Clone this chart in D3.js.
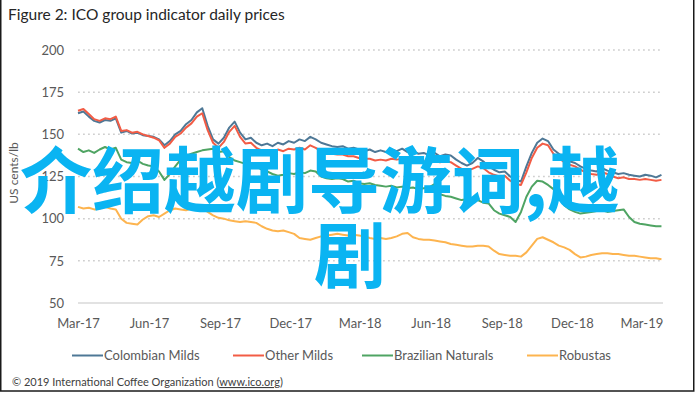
<!DOCTYPE html>
<html><head><meta charset="utf-8">
<script src="https://cdn.jsdelivr.net/npm/d3@7"></script>
<style>
html,body{margin:0;padding:0;background:#fff;}
svg{display:block;}
</style></head>
<body>
<svg id="chart" width="695" height="394"></svg>
<script>
// ---- data (weekly readings from the reference, US cents/lb) ----
const startDate = "2017-03-01";
const seriesNames = ["Colombian Milds", "Other Milds", "Brazilian Naturals", "Robustas"];
const seriesColors = ["#4e7896", "#f25c45", "#4fa463", "#fdb44f"];
const colombianMilds = [162.5,163.5,160.5,158,157,158.5,158,159.5,151,152,150.5,151,149.5,149,148.5,147,143.5,146,150,152,156,158.5,163,165.5,155,147,144.5,148,154,157.5,151,147,148,145,143.5,144.5,143,145,144,146,145,147,146,148.5,147,145,144,143,142.5,143,141.5,142,141,140,141,139.5,140.5,139.5,141,140,141.5,139.5,140,138.5,139,137.5,139,137,138,137.5,135,133,131.5,133,136,134,131,129,127.5,128,125,123,122,131,139,145,147.5,146,141,138.5,136,134,133,131,129.5,128.5,128,130,128.5,127.5,126.5,127,126,125.5,125,126,125.5,124.5,126];
const otherMilds = [164,165,162,159,158,159.5,159,160.5,152,152.5,151,151.5,150,149,148,146.5,142,144.5,148.5,150.5,154,156.5,160.5,162.5,152.5,145,142,145.5,151.5,155,148.5,144.5,145,142,140.5,140,139,141,140,141.5,141,142,141,143.5,142,140,139.5,138.5,138,138,137,137,136,135.5,135.5,134.5,135,134.5,135.5,135,135.5,134,134,133.5,134,133,134,133.5,134,133.5,131.5,129.5,128.5,129.5,131,130,127.5,126,125,125.5,122.5,120.5,120,127.5,136,142,144.5,143.5,138.5,136,133.5,132,131,129,127.5,126.5,126,127.5,126.5,125,124,124.5,123.5,123.5,123,123.5,123,122.5,123];
const brazilianNaturals = [141.5,139.5,140.5,139,141,142.5,141,142,135,133.5,133,134.5,132.5,131.5,131,128,123,126.5,131,135,137,138.5,139.5,140.5,141,141.5,139.5,140,136.5,134.5,133.5,132.5,132,131,129,128,126.5,125.5,126,127,126.5,127.5,127,128.5,128,125,124,123.5,124,123.5,122,122.5,121,120.5,121,120,119.5,119,119.5,118.5,119,118,118.5,117.5,118,118.5,120.5,114.5,113.5,113,112,111,111.5,110.5,111,109.5,109,105,103,102,101,98,104,113,119,122.5,122,120,117.5,113,108,105.5,104,103,103.5,104,104.5,105,104,104.5,105,105.5,101,98,97,96.5,96,95.5,95.5];
const robustas = [107,106,106.5,105.5,106,107,106,105.5,100,97.5,97,96.5,99.5,101.5,102,101,103,105,106,105.5,105,106,106.5,107,104,102,100.5,100,99,98.5,98,98.5,98,97.5,95.5,94,93,92.5,93,92,91,88.5,88,87.5,88.5,89.5,90,90.5,91,90.5,90,90.5,90,89.5,88.5,88,88.5,88,88.5,89.5,91,91.5,89,88,87.5,87.5,87,86.5,86,85,84.5,84,83.5,83.5,84,84,83.5,81,79,78.5,78,78,77.5,80,84,88,89,87.5,86,84,83,81.5,79,77,77.5,78.5,79,79.5,79.5,79,79,78.5,78,78,77.5,77,76.5,76.5,76];
const yTicks = [50, 75, 100, 125, 150, 175, 200];
const xTickLabels = ["Mar-17","Jun-17","Sep-17","Dec-17","Mar-18","Jun-18","Sep-18","Dec-18","Mar-19"];
const titleText = "Figure 2: ICO group indicator daily prices";
const yAxisTitle = "US cents/lb";
const footerText = "© 2019 International Coffee Organization (";
const footerLink = "www.ico.org";
const overlayLine1 = "介绍越剧导游词,越";
const overlayLine2 = "剧";

const allSeries = [colombianMilds, otherMilds, brazilianNaturals, robustas];
const parse = d3.utcParse("%Y-%m-%d");
const t0 = parse(startDate);
const dates = colombianMilds.map((_, i) => d3.utcDay.offset(t0, i * 7));

const svg = d3.select("#chart");
const x = d3.scaleUtc().domain([t0, parse("2019-03-29")]).range([78, 663]);
const y = d3.scaleLinear().domain([50, 200]).range([303, 50]);
const font = "Lato, 'Open Sans', sans-serif";

// frame
svg.append("rect").attr("x", 0.75).attr("y", -5).attr("width", 693).attr("height", 396)
  .attr("fill", "none").attr("stroke", "#1a1a1a").attr("stroke-width", 1.5);

// title
svg.append("text").attr("x", 8).attr("y", 20).attr("font-family", font).attr("font-size", 15.5)
  .attr("fill", "#262626").text(titleText);

// gridlines
svg.append("g").selectAll("line").data(yTicks.filter(d => d > 50)).join("line")
  .attr("x1", 78).attr("x2", 663).attr("y1", d => y(d)).attr("y2", d => y(d))
  .attr("stroke", "#cfcfcf").attr("stroke-width", 1.5).attr("stroke-dasharray", "1.8,3.2");

// y axis
const yAxis = d3.axisLeft(y).tickValues(yTicks).tickSize(0).tickPadding(0);
const gy = svg.append("g").attr("transform", "translate(64,0)").call(yAxis);
gy.select(".domain").remove();
gy.selectAll("text").attr("font-family", font).attr("font-size", 13).attr("fill", "#595959");

// x axis
const tickDates = xTickLabels.map(s => d3.utcParse("%b-%y")(s));
const xAxis = d3.axisBottom(x).tickValues(tickDates).tickFormat(d3.utcFormat("%b-%y")).tickSize(0).tickPadding(0);
const gx = svg.append("g").attr("transform", "translate(0,303)").call(xAxis);
gx.select(".domain").remove();
gx.selectAll("text").attr("font-family", font).attr("font-size", 13).attr("fill", "#595959").attr("dy", "1.9em");
svg.append("line").attr("x1", 78).attr("x2", 663).attr("y1", y(50)).attr("y2", y(50))
  .attr("stroke", "#d9d9d9").attr("stroke-width", 1.5);

// y title
svg.append("text").attr("transform", "translate(18,173) rotate(-90)").attr("text-anchor", "middle")
  .attr("font-family", font).attr("font-size", 12).attr("fill", "#595959").text(yAxisTitle);

// lines
const line = d3.line().x((d, i) => x(dates[i])).y(d => y(d));
svg.append("g").selectAll("path").data(allSeries).join("path")
  .attr("d", d => line(d)).attr("fill", "none")
  .attr("stroke", (d, i) => seriesColors[i]).attr("stroke-width", 2).attr("stroke-linejoin", "round");

// legend
const legendX = [72, 233, 362, 527];
const lg = svg.append("g").selectAll("g").data(seriesNames).join("g")
  .attr("transform", (d, i) => `translate(${legendX[i]},355.5)`);
lg.append("line").attr("x1", 0).attr("x2", 31).attr("stroke", (d, i) => seriesColors[i]).attr("stroke-width", 2);
lg.append("text").attr("x", 32).attr("dy", "0.35em").attr("font-family", font).attr("font-size", 13)
  .attr("fill", "#595959").text(d => d);

// footer
const ft = svg.append("text").attr("x", 12).attr("y", 386).attr("font-family", font).attr("font-size", 11).attr("fill", "#404040");
ft.append("tspan").text(footerText);
ft.append("tspan").attr("text-decoration", "underline").text(footerLink);
ft.append("tspan").text(")");

// overlay text
const ov = svg.append("g").attr("font-family", "'Noto Sans CJK SC', sans-serif").attr("font-size", 72)
  .attr("font-weight", 700).attr("fill", "#0ab4f2");
ov.append("text").attr("x", 20).attr("y", 207).text(overlayLine1);
ov.append("text").attr("x", 314).attr("y", 282).text(overlayLine2);
</script>
</body></html>
